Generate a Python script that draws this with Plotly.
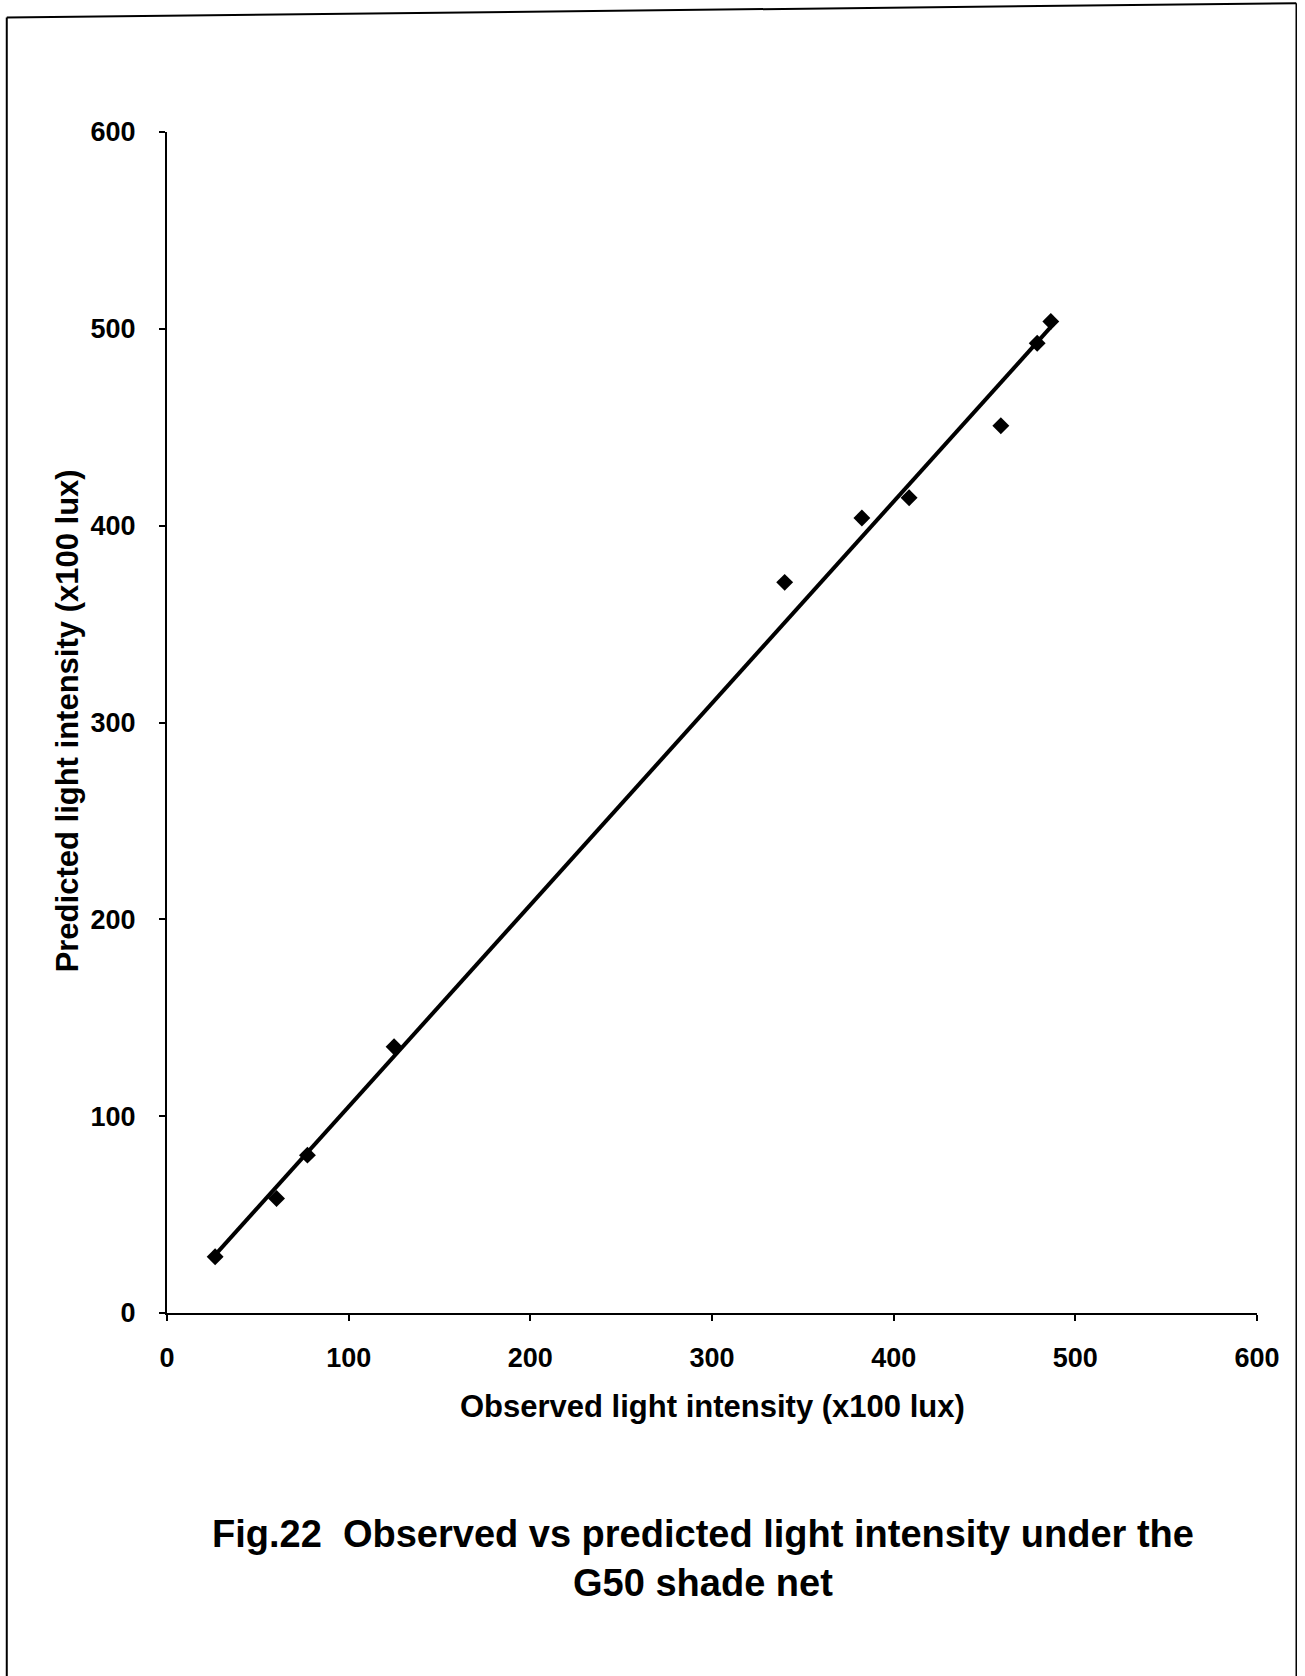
import plotly.graph_objects as go

# Data
observed = [26.5, 60.3, 77.3, 125.0, 340.0, 382.5, 408.5, 459.0, 479.0, 486.5]
predicted = [28.6, 58.2, 80.2, 135.3, 371.2, 403.9, 414.2, 450.8, 492.7, 503.7]
trend_x = [26.4, 486.3]
trend_y = [29.4, 500.7]
tick_vals = [0, 100, 200, 300, 400, 500, 600]
tick_text = ["0", "100", "200", "300", "400", "500", "600"]

x_title = "Observed light intensity (x100 lux)"
y_title = "Predicted light intensity (x100 lux)"
fig_title = "Fig.22  Observed vs predicted light intensity under the<br>G50 shade net"

FONT = "Liberation Sans, Arial, sans-serif"

fig = go.Figure()
fig.add_trace(go.Scatter(
    x=trend_x, y=trend_y, mode="lines",
    line=dict(color="black", width=4),
    showlegend=False, hoverinfo="skip",
))
fig.add_trace(go.Scatter(
    x=observed, y=predicted, mode="markers",
    marker=dict(symbol="diamond", size=13, color="black"),
    showlegend=False,
))

axis_common = dict(
    range=[0, 600],
    tickvals=tick_vals, ticktext=tick_text,
    showgrid=False, zeroline=False,
    showline=True, linecolor="black",
    ticks="outside", ticklen=6, tickcolor="black", tickwidth=2,
    tickfont=dict(family=FONT, size=27, color="black", weight="bold"),
    fixedrange=True,
)

fig.update_layout(
    width=1305, height=1676,
    margin=dict(l=167, r=48, t=132, b=363),
    paper_bgcolor="white", plot_bgcolor="white",
    xaxis=dict(**axis_common, linewidth=1.5, ticklabelstandoff=14),
    yaxis=dict(**axis_common, linewidth=2, ticklabelstandoff=18),
    annotations=[
        dict(text=x_title, xref="paper", yref="paper", x=0.5, y=-0.0792,
             xanchor="center", yanchor="middle", showarrow=False,
             font=dict(family=FONT, size=31, color="black", weight="bold")),
        dict(text=y_title, xref="paper", yref="paper", x=-0.0917, y=0.501,
             xanchor="center", yanchor="middle", showarrow=False, textangle=-90,
             font=dict(family=FONT, size=31, color="black", weight="bold")),
        dict(text=fig_title, xref="paper", yref="paper", x=0.4917, y=-0.208,
             xanchor="center", yanchor="middle", showarrow=False,
             font=dict(family=FONT, size=38, color="black", weight="bold")),
    ],
    shapes=[
        dict(type="line", xref="paper", yref="paper",
             x0=-0.147, y0=1.097, x1=-0.147, y1=-0.33,
             line=dict(color="black", width=2)),
        dict(type="line", xref="paper", yref="paper",
             x0=-0.147, y0=1.097, x1=1.036, y1=1.109,
             line=dict(color="black", width=2)),
        dict(type="line", xref="paper", yref="paper",
             x0=1.036, y0=1.109, x1=1.036, y1=-0.33,
             line=dict(color="black", width=1.5)),
    ],
)

fig.write_html("out.html")
